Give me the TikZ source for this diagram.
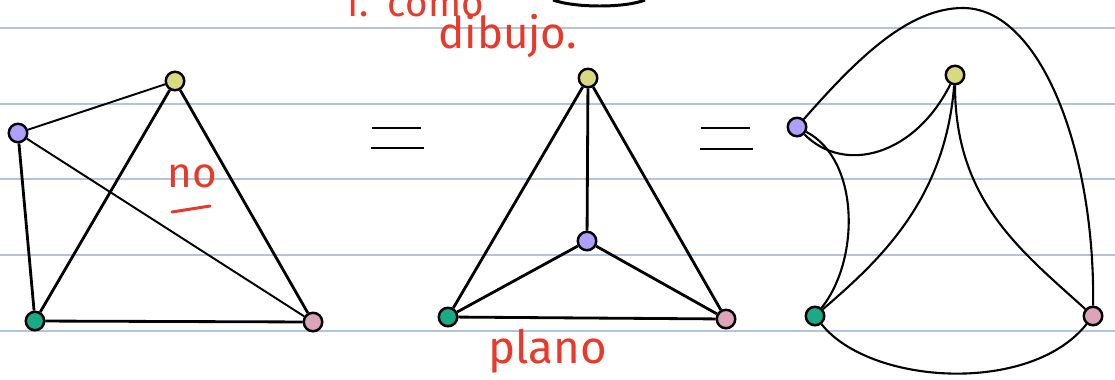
\documentclass[tikz,border=0pt]{standalone}
\usepackage{fontspec}
\newfontfamily\handfont{Fira Sans}
\usetikzlibrary{positioning,calc}
\definecolor{vyellow}{RGB}{217,217,128}
\definecolor{vpurple}{RGB}{175,160,255}
\definecolor{vgreen}{RGB}{26,170,135}
\definecolor{vpink}{RGB}{221,163,184}
\definecolor{rule}{RGB}{180,195,220}
\definecolor{ink}{RGB}{232,57,42}

\begin{document}
\begin{tikzpicture}[x=0.02cm,y=-0.02cm,
  vtx/.style={circle,draw=black,line width=1.4pt,inner sep=0pt,minimum size=0.37cm},
  ed/.style={line width=1.6pt},
  thin ed/.style={line width=1.1pt},
  cv/.style={line width=1.2pt},
  ruleline/.style={draw=rule,line width=0.8pt},
  eq/.style={line width=1.6pt},
  note/.style={text=ink,font=\handfont\fontsize{22}{24}\selectfont,inner sep=0pt,anchor=base west}]
\clip (0,0) rectangle (1115,379);
\fill[white] (0,0) rectangle (1115,379);
\foreach \y in {28,104,179,255,331} \draw[ruleline] (0,\y) -- (1115,\y);
\draw[line width=1.7pt] (553,0) .. controls (575,8) and (625,8) .. (645,0);
\node[note] (como) at (342,16) {1.\hspace{0.5em}como};
\node[note,font=\handfont\fontsize{25}{27}\selectfont] (dibujo) at (438,48) {dibujo.};
\node[note,font=\handfont\fontsize{24}{26}\selectfont] (no) at (167,187) {no};
\node[note,font=\handfont\fontsize{26}{28}\selectfont] (plano) at (488,363) {plano};
\draw[ink,line width=1.7pt,line cap=round] (172,212) -- (210,206);
\draw[eq] (372,128) -- (421,128); \draw[eq] (371,148) -- (424,148);
\draw[eq] (701,128) -- (750,128); \draw[eq] (700,149) -- (753,149);
\node[vtx,fill=vpurple] (lp) at (18,133) {};
\node[vtx,fill=vyellow] (ly) at (175,81) {};
\node[vtx,fill=vgreen] (lg) at (35,321) {};
\node[vtx,fill=vpink] (lk) at (313,322) {};
\node[vtx,fill=vyellow] (my) at (588,78) {};
\node[vtx,fill=vpurple] (mp) at (587,241) {};
\node[vtx,fill=vgreen] (mg) at (448,317) {};
\node[vtx,fill=vpink] (mk) at (726,319) {};
\node[vtx,fill=vpurple] (rp) at (797,127) {};
\node[vtx,fill=vyellow] (ry) at (955,75) {};
\node[vtx,fill=vgreen] (rg) at (815,316) {};
\node[vtx,fill=vpink] (rk) at (1093,316) {};
\coordinate (rtop) at (963,8);
\draw[thin ed] (lp) -- (ly); \draw[thin ed] (lp) -- (lk);
\draw[ed] (lp) -- (lg); \draw[ed] (ly) -- (lg); \draw[ed] (ly) -- (lk); \draw[ed] (lg) -- (lk);
\draw[ed] (my) -- (mp); \draw[ed] (my) -- (mg); \draw[ed] (my) -- (mk);
\draw[ed] (mp) -- (mg); \draw[ed] (mp) -- (mk); \draw[ed] (mg) -- (mk);
\draw[cv] (rp) .. controls (845,175) and (915,155) .. (ry);
\draw[cv] (rp) .. controls (860,160) and (860,260) .. (rg);
\draw[cv] (ry) .. controls (945,200) and (880,260) .. (rg);
\draw[cv] (ry) .. controls (955,200) and (1020,250) .. (rk);
\draw[cv] (rp) .. controls (860,55) and (910,8) .. (rtop) .. controls (1040,8) and (1095,150) .. (rk);
\draw[cv] (rg) .. controls (870,385) and (1030,395) .. (rk);
\end{tikzpicture}
\end{document}
